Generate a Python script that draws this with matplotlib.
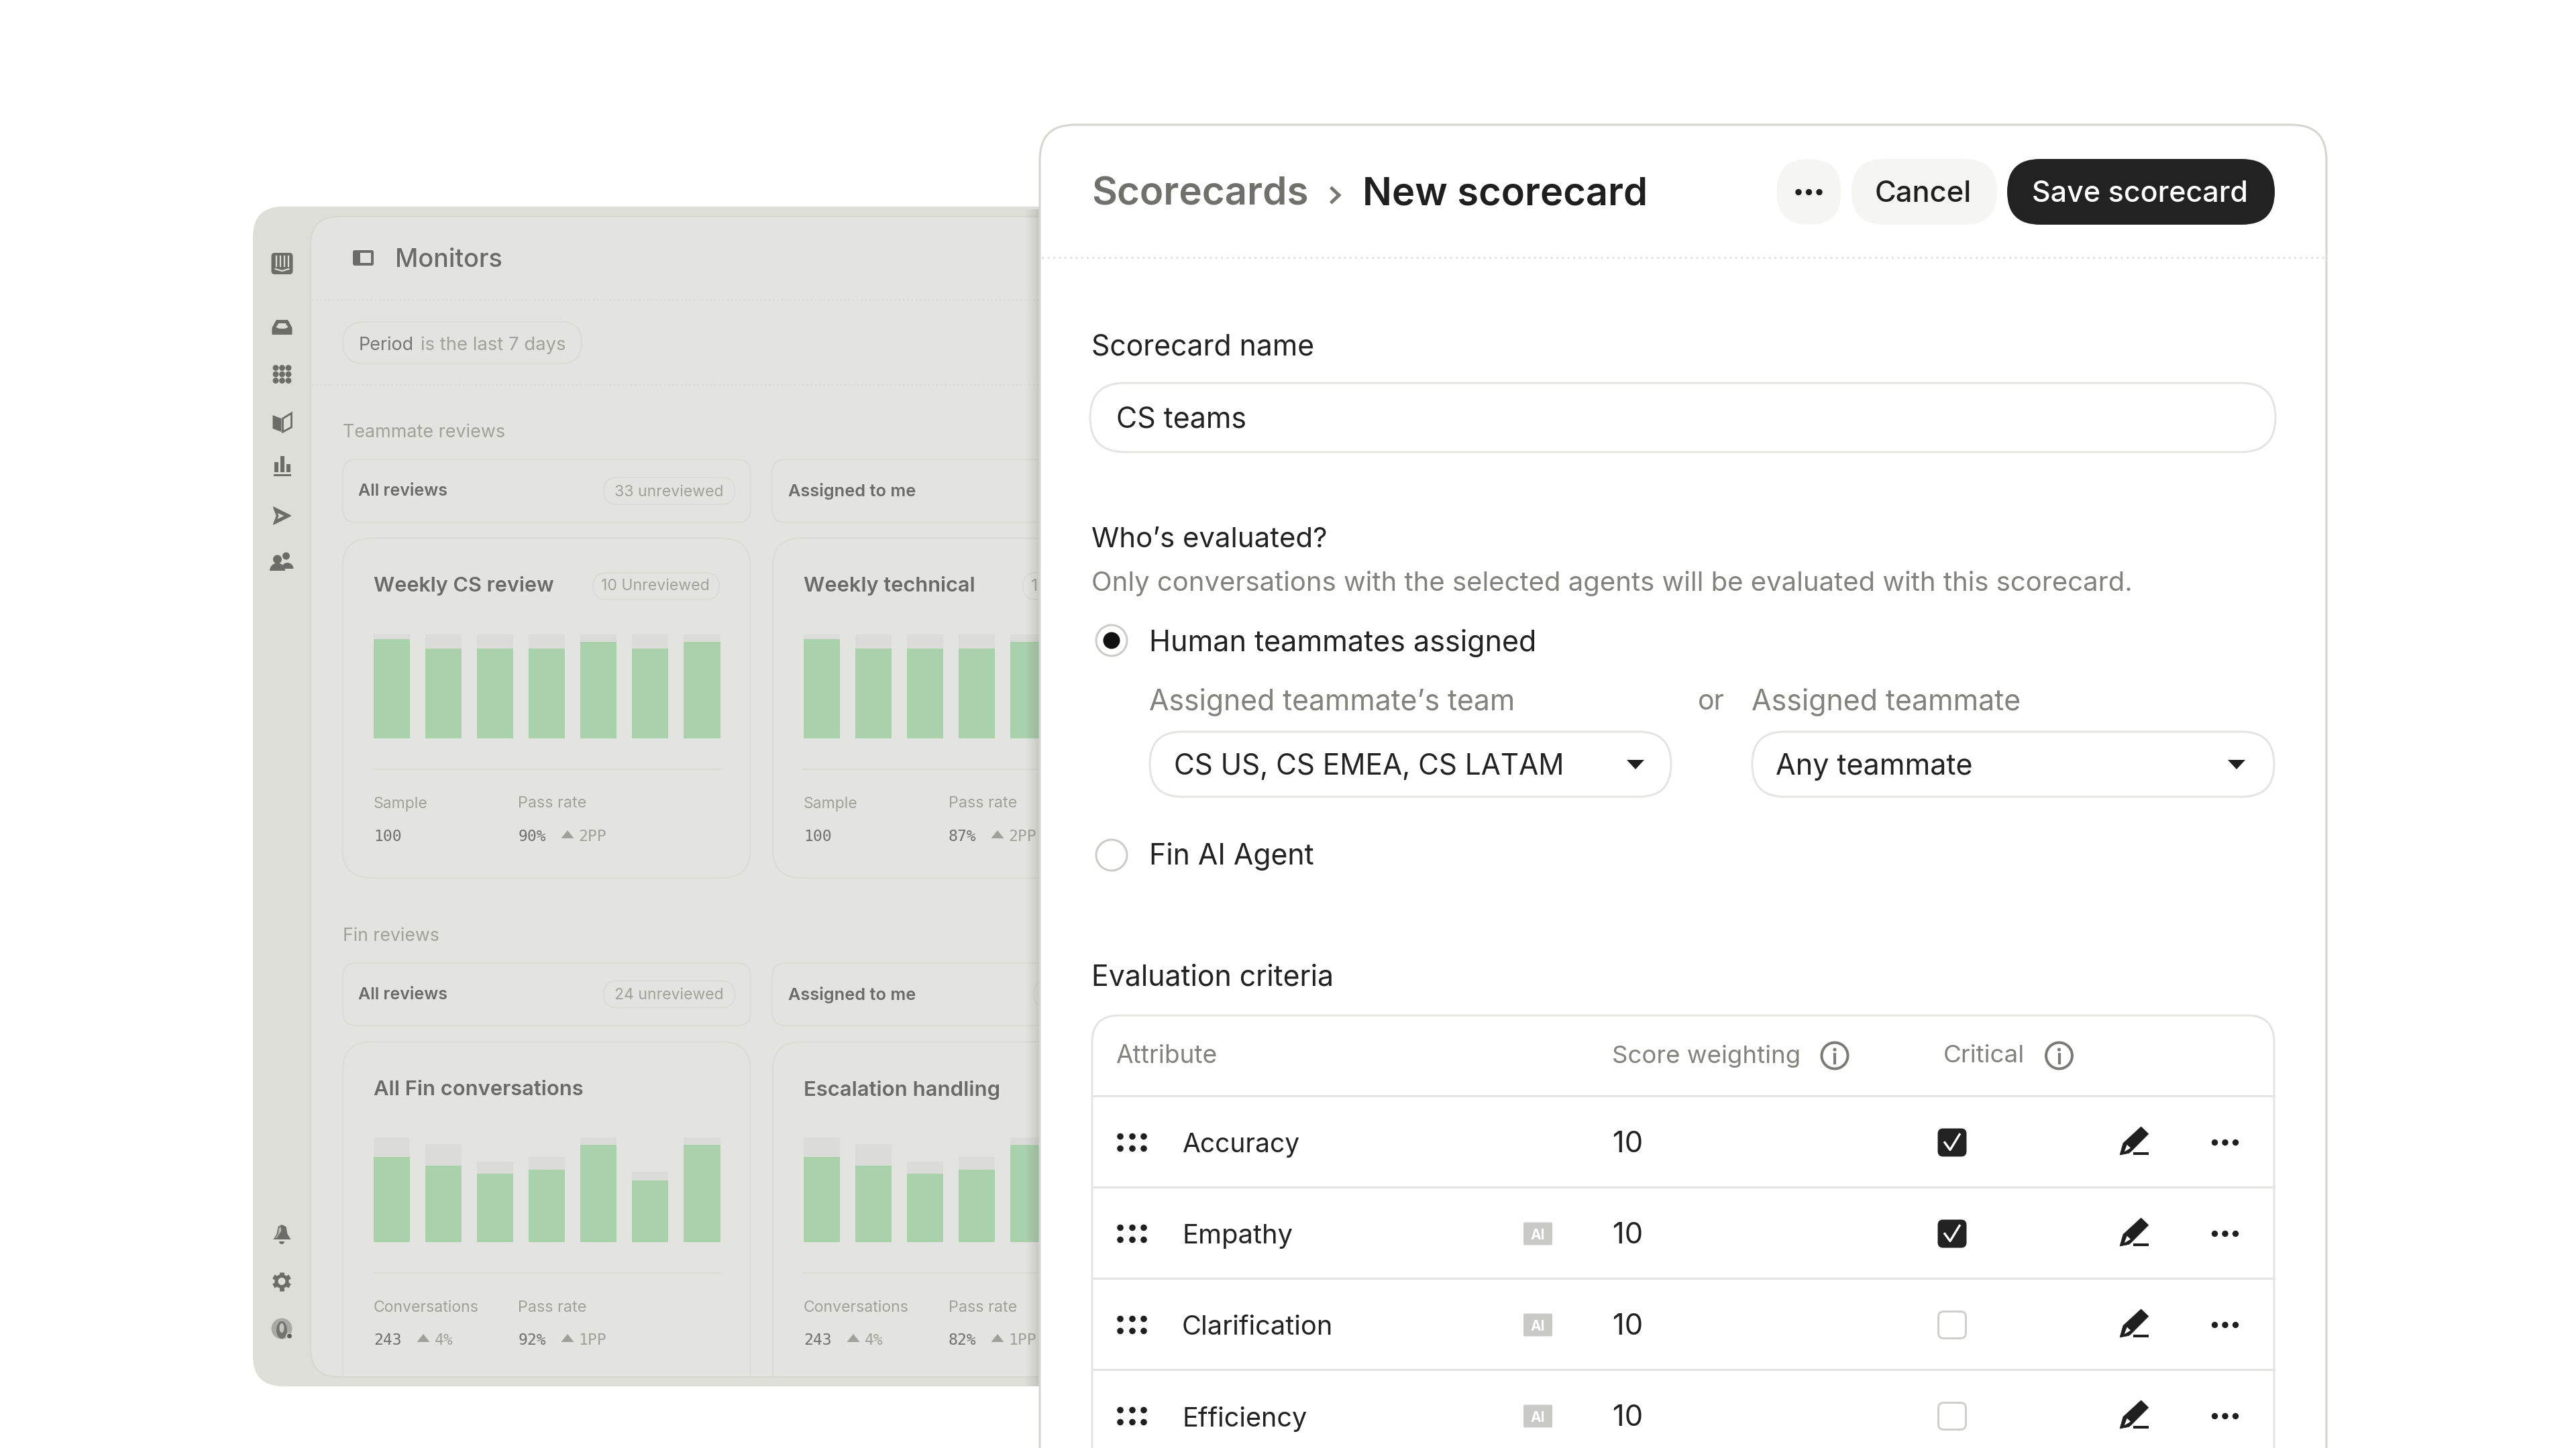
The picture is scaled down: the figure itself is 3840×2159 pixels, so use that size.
import numpy as np
import matplotlib
matplotlib.use("Agg")
import matplotlib.pyplot as plt
from matplotlib.patches import FancyBboxPatch, Circle, Polygon, Rectangle, Ellipse, Wedge

# ---------- data ----------
day_slots = [0, 1, 2, 3, 4, 5, 6]
cs_total = [100, 100, 100, 100, 100, 100, 100]
cs_pass = [95, 86.5, 86.5, 86.5, 93, 86.5, 92.5]
tech_slots = [0, 1, 2, 3, 4]
tech_total = [100, 100, 100, 100, 100]
tech_pass = [95, 86.5, 86.5, 86.5, 93]
fin_total = [100, 93.8, 77.1, 81.4, 100, 67.3, 100]
fin_pass = [81.4, 72.9, 65.4, 69.3, 92.8, 58.8, 92.8]
esc_total = [100, 93.8, 77.1, 81.4, 100]
esc_pass = [81.4, 72.9, 65.4, 69.3, 92.8]

row_names = ["Accuracy", "Empathy", "Clarification", "Efficiency"]
row_widths = [175, 165, 225, 186]
row_weights = ["10", "10", "10", "10"]
row_critical = [True, True, False, False]
row_ai = [False, True, True, True]

W, H = 3840, 2159
fig = plt.figure(figsize=(W / 100, H / 100), dpi=100, facecolor="white")
rend = fig.canvas.get_renderer()


def layer(z):
    a = fig.add_axes([0, 0, 1, 1], zorder=z)
    a.set_xlim(0, W)
    a.set_ylim(H, 0)
    a.axis("off")
    a.patch.set_alpha(0)
    return a


back = layer(0)
top = layer(5)


def T(ax, x, y, s, w=None, size=28, color="#222222", weight="normal", ha="left", family="Inter", z=5, clip=False):
    t = ax.text(x, y, s, fontsize=size * 0.72, color=color, weight=weight, ha=ha, va="center_baseline",
                family=family, zorder=z, clip_on=clip)
    if w:
        bw = t.get_window_extent(rend).width
        t.set_fontsize(size * 0.72 * w / bw)
    return t


def RB(ax, x0, y0, x1, y1, r, fc="none", ec="none", lw=0, z=2, **kw):
    r = min(r, (x1 - x0) / 2, (y1 - y0) / 2)
    p = FancyBboxPatch((x0 + r, y0 + r), x1 - x0 - 2 * r, y1 - y0 - 2 * r,
                       boxstyle=f"round,pad={r},rounding_size={r}", fc=fc, ec=ec, lw=lw * 0.72, zorder=z, **kw)
    ax.add_patch(p)
    return p


def three_dots(ax, cx, cy, gap, r, color="#222222", z=6):
    for d in (-gap, 0, gap):
        ax.add_patch(Circle((cx + d, cy), r, fc=color, ec="none", zorder=z))


# ---------- left app window ----------
SIDE = "#DDDED8"
MAIN = "#E3E4DF"
ICON = "#6C6D68"
STROKE = "#DBDCD6"
MUTED = "#A0A19B"
DARKT = "#6A6B66"
RB(back, 377, 308, 1700, 2067, 45, fc=SIDE, z=1)
inner = RB(back, 463, 323, 1700, 2053, 42, fc=MAIN, ec="#D6D7D1", lw=2, z=1.5)

for yy in (447, 574):
    back.plot([465, 1550], [yy, yy], color="#D9DAD4", lw=1.5, ls=(0, (1, 2)), zorder=2)

# sidebar icons
X = 420.5
RB(back, X - 16, 377, X + 16, 409, 5, fc=ICON, z=3)
for dx in (-9, -3, 3, 9):
    back.plot([X + dx, X + dx], [382, 397], color=SIDE, lw=1.6, zorder=4)
back.plot([X - 10, X, X + 10], [401, 404, 401], color=SIDE, lw=1.6, zorder=4)
back.add_patch(Polygon([[X - 14, 489], [X - 8, 478], [X + 8, 478], [X + 14, 489], [X + 14, 498], [X - 14, 498]],
                       closed=True, fc=ICON, ec=ICON, lw=1.5, joinstyle="round", zorder=3))
back.add_patch(Polygon([[X - 9, 488], [X - 5, 482], [X + 5, 482], [X + 9, 488], [X + 4, 490], [X - 4, 490]],
                       closed=True, fc=SIDE, ec="none", zorder=4))
for i in (-1, 0, 1):
    for j in (-1, 0, 1):
        back.add_patch(Circle((X + i * 9.5, 558 + j * 9.5), 4.4, fc=ICON, ec="none", zorder=3))
back.add_patch(Polygon([[X - 14, 619], [X - 1, 624], [X - 1, 644], [X - 14, 639]], closed=True, fc=ICON, zorder=3))
back.add_patch(Polygon([[X + 14, 616], [X + 1, 624], [X + 1, 644], [X + 14, 637]], closed=True, fc="none", ec=ICON, lw=2, zorder=3))
for dx, h in ((-9, 15), (0, 24), (9, 12)):
    back.add_patch(Rectangle((X + dx - 3, 708 - 4 - h), 6, h, fc=ICON, zorder=3))
back.add_patch(Rectangle((X - 13, 707), 26, 3, fc=ICON, zorder=3))
back.add_patch(Polygon([[X - 13, 756], [X + 13, 769], [X - 13, 782], [X - 8, 769]], closed=True, fc=ICON, ec=ICON, lw=1, zorder=3))
back.add_patch(Polygon([[X - 7, 765], [X + 3, 769], [X - 7, 774], [X - 5, 769]], closed=True, fc=SIDE, zorder=4))
for cx, cy, r in ((X - 7, 834, 6.5), (X + 6, 829, 5.5)):
    back.add_patch(Circle((cx, cy), r, fc=ICON, ec="none", zorder=3))
back.add_patch(Wedge((X - 7, 851), 11.5, 180, 360, fc=ICON, ec="none", zorder=3))
back.add_patch(Wedge((X + 8, 848), 9, 180, 360, fc=ICON, ec="none", zorder=3))
# bell, gear, avatar
back.add_patch(Polygon([[X - 0.5, 1826], [X + 6, 1829], [X + 8, 1840], [X + 13, 1848], [X - 13, 1848], [X - 8, 1840], [X - 6, 1829]],
                       closed=True, fc=ICON, zorder=3))
back.add_patch(Polygon([[X - 5, 1831], [X - 2, 1829], [X - 1, 1835], [X - 8, 1846], [X - 10, 1846], [X - 6, 1840]],
                       closed=True, fc="#B5B6B0", ec="none", zorder=4))
back.add_patch(Wedge((X - 0.5, 1851), 4, 0, 180, fc=ICON, ec="none", zorder=3))
back.add_patch(Circle((420, 1910.5), 10.5, fc=ICON, ec="none", zorder=3))
back.add_patch(Circle((420, 1910.5), 5.5, fc=SIDE, ec="none", zorder=4))
for a in np.deg2rad(np.arange(30, 360, 60)):
    back.plot([420 + 9 * np.cos(a), 420 + 14 * np.cos(a)], [1910.5 + 9 * np.sin(a), 1910.5 + 14 * np.sin(a)],
              color=ICON, lw=5, solid_capstyle="butt", zorder=3)
back.add_patch(Circle((420, 1981), 15.5, fc="#A9AAA5", ec="none", zorder=3))
back.add_patch(Ellipse((420, 1983), 16, 26, fc="#73746F", ec="none", zorder=4))
back.add_patch(Ellipse((420, 1980), 7, 14, fc="#C5C5BF", ec="none", zorder=4))
back.add_patch(Circle((431.5, 1992), 4.2, fc="#5C5D58", ec=SIDE, lw=1, zorder=5))

# window header
RB(back, 528, 375, 555, 394, 1, fc=MAIN, ec=ICON, lw=4, z=3)
back.add_patch(Rectangle((528, 375), 9, 19, fc=ICON, zorder=3))
T(back, 589.5, 384, "Monitors", w=160, size=38, color="#6A6B66", weight="medium")
RB(back, 511, 480, 867, 542, 31, ec=STROKE, lw=2, z=3)
T(back, 534.5, 512, "Period", w=82, size=26, color="#777873")
T(back, 627, 512, "is the last 7 days", w=217, size=26, color=MUTED)

T(back, 511, 642, "Teammate reviews", w=241, size=25, color=MUTED)
T(back, 511, 1393, "Fin reviews", w=144, size=25, color=MUTED)


def summary(y0, y1, badge):
    ym = (y0 + y1) / 2
    RB(back, 511, y0, 1119, y1, 20, ec=STROKE, lw=2, z=3)
    RB(back, 1151, y0, 1700, y1, 20, ec=STROKE, lw=2, z=3)
    T(back, 534.5, ym - 2, "All reviews", w=133, size=25, color=DARKT, weight="semibold")
    T(back, 1175, ym - 2, "Assigned to me", w=190, size=25, color=DARKT, weight="semibold")
    RB(back, 900, ym - 20, 1095.5, ym + 20, 20, ec=STROKE, lw=2, z=4)
    T(back, 916, ym - 0.5, badge, w=163, size=24, color=MUTED)


summary(685, 779, "33 unreviewed")
summary(1436, 1529, "24 unreviewed")
RB(back, 1541, 1462, 1700, 1502, 20, ec=STROKE, lw=2, z=4)


def up(ax, cx, cy, size=19):
    ax.add_patch(Polygon([[cx - size / 2, cy + 6], [cx + size / 2, cy + 6], [cx, cy - 6]], closed=True, fc=MUTED, ec="none", zorder=5))


def bars(x0, y0, y1, slots, total, passed):
    a = fig.add_axes([x0 / W, 1 - y1 / H, (1073.5 - 556.7) / W, (y1 - y0) / H], zorder=2)
    a.set_xlim(-0.353, 6.353)
    a.set_ylim(0, 100)
    a.axis("off")
    a.patch.set_alpha(0)
    a.bar(slots, total, width=0.706, color="#DBDBD7", linewidth=0)
    a.bar(slots, passed, width=0.706, color="#A9D1AB", linewidth=0)


MONO = "DejaVu Sans Mono"


def card(x, y0, y1, title, title_w, left_label, left_w, left_val, left_delta, rate, delta, slots, total, passed, by0, by1, ty, dy, ly, vy):
    p = RB(back, x, y0, x + 607.5, y1, 42, ec=STROKE, lw=2, z=3)
    p.set_clip_path(inner)
    tx = x + 46
    T(back, tx, ty, title, w=title_w, size=31, color=DARKT, weight="semibold")
    bars(x + 45.7, by0, by1, slots, total, passed)
    back.plot([x + 46, x + 562], [dy, dy], color=STROKE, lw=1.6, zorder=3)
    T(back, tx, ly, left_label, w=left_w, size=24, color=MUTED)
    T(back, x + 261.5, ly, "Pass rate", w=102.5, size=24, color=MUTED)
    T(back, tx, vy, left_val, w=42, size=24, color="#6F706B", family=MONO)
    if left_delta:
        up(back, x + 120, vy - 1)
        T(back, x + 137, vy, left_delta, w=28, size=24, color=MUTED, family=MONO)
    T(back, x + 261.5, vy, rate, w=42, size=24, color="#6F706B", family=MONO)
    up(back, x + 335, vy - 1)
    T(back, x + 351, vy, delta, w=42, size=24, color=MUTED, family=MONO)


card(511, 802.5, 1309, "Weekly CS review", 269, "Sample", 81, "100", None, "90%", "2PP", day_slots, cs_total, cs_pass, 945.6, 1101.4, 871, 1147, 1196, 1245)
card(1152, 802.5, 1309, "Weekly technical", 256, "Sample", 81, "100", None, "87%", "2PP", tech_slots, tech_total, tech_pass, 945.6, 1101.4, 871, 1147, 1196, 1245)
card(511, 1553.5, 2150, "All Fin conversations", 313, "Conversations", 157.5, "243", "4%", "92%", "1PP", day_slots, fin_total, fin_pass, 1696, 1852, 1622, 1898, 1947, 1996)
card(1152, 1553.5, 2150, "Escalation handling", 293, "Conversations", 157.5, "243", "4%", "82%", "1PP", tech_slots, esc_total, esc_pass, 1696, 1852, 1622, 1898, 1947, 1996)

# badges on the top cards (the second one is cut off by the front panel)
RB(back, 884, 854, 1072, 894, 20, ec=STROKE, lw=2, z=4)
T(back, 896.5, 872, "10 Unreviewed", w=162, size=24, color=MUTED)
RB(back, 1525, 854, 1700, 894, 20, ec=STROKE, lw=2, z=4)
T(back, 1537, 872, "1", size=25, color=MUTED)

# soft shadow of the front panel
for i in range(14):
    top.add_patch(Rectangle((1550 - 1.5 * (i + 1), 312), 1.5 * (i + 1), 1755, fc="#8C8D88", ec="none", alpha=0.018, zorder=0.5))

# ---------- front panel ----------
RB(top, 1550, 186, 3468, 2400, 52, fc="white", ec="#D5D6D0", lw=3, z=1)
INK = "#1F1F1F"
GREY = "#82827E"
LINE = "#E4E4E2"
T(top, 1627, 285, "Scorecards", w=324, size=62, color="#70716C", weight="semibold")
top.plot([1985.5, 1996, 1985.5], [281, 291, 301], color="#777873", lw=3.6, zorder=5, solid_joinstyle="miter")
T(top, 2031, 285, "New scorecard", w=425, size=62, color=INK, weight="semibold")
RB(top, 2648.5, 237, 2744.5, 335, 48, fc="#F5F5F3", z=3)
three_dots(top, 2696.5, 286.5, 15.5, 4.7, INK)
RB(top, 2760, 237, 2977, 335, 49, fc="#F5F5F3", z=3)
T(top, 2867, 285, "Cancel", w=144, size=44, color=INK, weight="medium", ha="center")
RB(top, 2992, 237, 3391, 335, 49, fc="#222222", z=3)
T(top, 3190, 285, "Save scorecard", w=321, size=44, color="white", weight="medium", ha="center")
top.plot([1553, 3466], [384, 384], color="#DEDEDB", lw=2, ls=(0, (1, 2)), zorder=2)

T(top, 1627, 514, "Scorecard name", w=332, size=44)
RB(top, 1625, 571, 3392, 674, 52, fc="white", ec=LINE, lw=3, z=3)
T(top, 1664, 621, "CS teams", w=194, size=44)
T(top, 1627, 801, "Who\u2019s evaluated?", w=351, size=44)
T(top, 1627, 866, "Only conversations with the selected agents will be evaluated with this scorecard.", w=1552, size=40, color=GREY)

top.add_patch(Circle((1657, 955), 23, fc="white", ec="#CBCCC7", lw=3 * 0.72, zorder=3))
top.add_patch(Circle((1657, 955), 12.5, fc="#111111", ec="none", zorder=4))
T(top, 1713, 955, "Human teammates assigned", w=577, size=44)
T(top, 1713, 1043, "Assigned teammate\u2019s team", w=545, size=44, color=GREY)
T(top, 2531, 1043, "or", w=40, size=44, color=GREY)
T(top, 2611, 1043, "Assigned teammate", w=401, size=44, color=GREY)


def select(x0, x1, text, tw, tx, ax_):
    RB(top, x0, 1091, x1, 1188, 48, fc="white", ec=LINE, lw=3, z=3)
    T(top, tx, 1139, text, w=tw, size=44)
    top.add_patch(Polygon([[ax_ - 13, 1133], [ax_ + 13, 1133], [ax_, 1147]], closed=True, fc=INK, ec="none", zorder=5))


select(1714, 2491, "CS US, CS EMEA, CS LATAM", 582, 1750, 2438)
select(2612, 3390, "Any teammate", 293, 2647, 3334)

top.add_patch(Circle((1657, 1275), 23, fc="white", ec="#CBCCC7", lw=3 * 0.72, zorder=3))
T(top, 1713, 1273, "Fin AI Agent", w=246, size=44)
T(top, 1627, 1453, "Evaluation criteria", w=361, size=44)

RB(top, 1628, 1514, 3390, 2400, 40, fc="white", ec=LINE, lw=3, z=3)
T(top, 1663, 1571, "Attribute", w=151, size=38, color=GREY)
T(top, 2403, 1571, "Score weighting", w=280, size=38, color=GREY)
T(top, 2897, 1571, "Critical", w=121, size=38, color=GREY)
for cx in (2735, 3069.5):
    top.add_patch(Circle((cx, 1574), 19.5, fc="white", ec="#7A7A76", lw=4 * 0.72, zorder=5))
    top.plot([cx, cx], [1572, 1585], color="#7A7A76", lw=3, zorder=6)
    top.add_patch(Circle((cx, 1565), 2.6, fc="#7A7A76", ec="none", zorder=6))
top.plot([1628, 3390], [1634, 1634], color=LINE, lw=2.2, zorder=4)

for i, (name, nw, wt, crit, ai) in enumerate(zip(row_names, row_widths, row_weights, row_critical, row_ai)):
    cy = 1703.5 + i * 136
    if i < len(row_names) - 1:
        top.plot([1628, 3390], [cy + 66.5, cy + 66.5], color=LINE, lw=2.2, zorder=4)
    for dx in (1670, 1688, 1705):
        for dy in (-9, 9):
            top.add_patch(Circle((dx, cy + dy), 4.8, fc=INK, ec="none", zorder=5))
    T(top, 1762, cy + 0.5, name, w=nw, size=43)
    if ai:
        RB(top, 2271, cy - 17, 2314, cy + 17, 2, fc="#C9CAC5", z=4)
        T(top, 2292.5, cy + 0.5, "AI", size=21, color="white", weight="bold", ha="center", z=5)
    T(top, 2404, cy - 1, wt, w=45, size=44)
    if crit:
        RB(top, 2888.5, cy - 21, 2931.5, cy + 21, 8, fc="#222222", z=5)
        top.plot([2899, 2907, 2921], [cy, cy + 11, cy - 12], color="white", lw=2.4, zorder=6)
    else:
        RB(top, 2889.5, cy - 20, 2930.5, cy + 20, 8, fc="white", ec="#CFCFCB", lw=3, z=5)
    px = 3181
    top.add_patch(Polygon([[px - 21, cy + 18.5], [px - 16, cy + 1], [px + 10.7, cy - 23.5], [px + 21.7, cy - 12.8],
                           [px - 5, cy + 14], [px - 8, cy + 16]], closed=True, fc=INK, ec=INK, lw=0.5, zorder=5))
    top.add_patch(Polygon([[px - 14.3, cy + 13.8], [px - 10.3, cy + 3.2], [px - 5, cy + 8.2]], closed=True, fc="white", ec="none", zorder=6))
    top.add_patch(Rectangle((px - 1, cy + 14), 23, 4.5, fc=INK, ec="none", zorder=5))
    three_dots(top, 3317, cy, 15.5, 4.7, INK)

fig.savefig("out.png", dpi=100, facecolor="white")
